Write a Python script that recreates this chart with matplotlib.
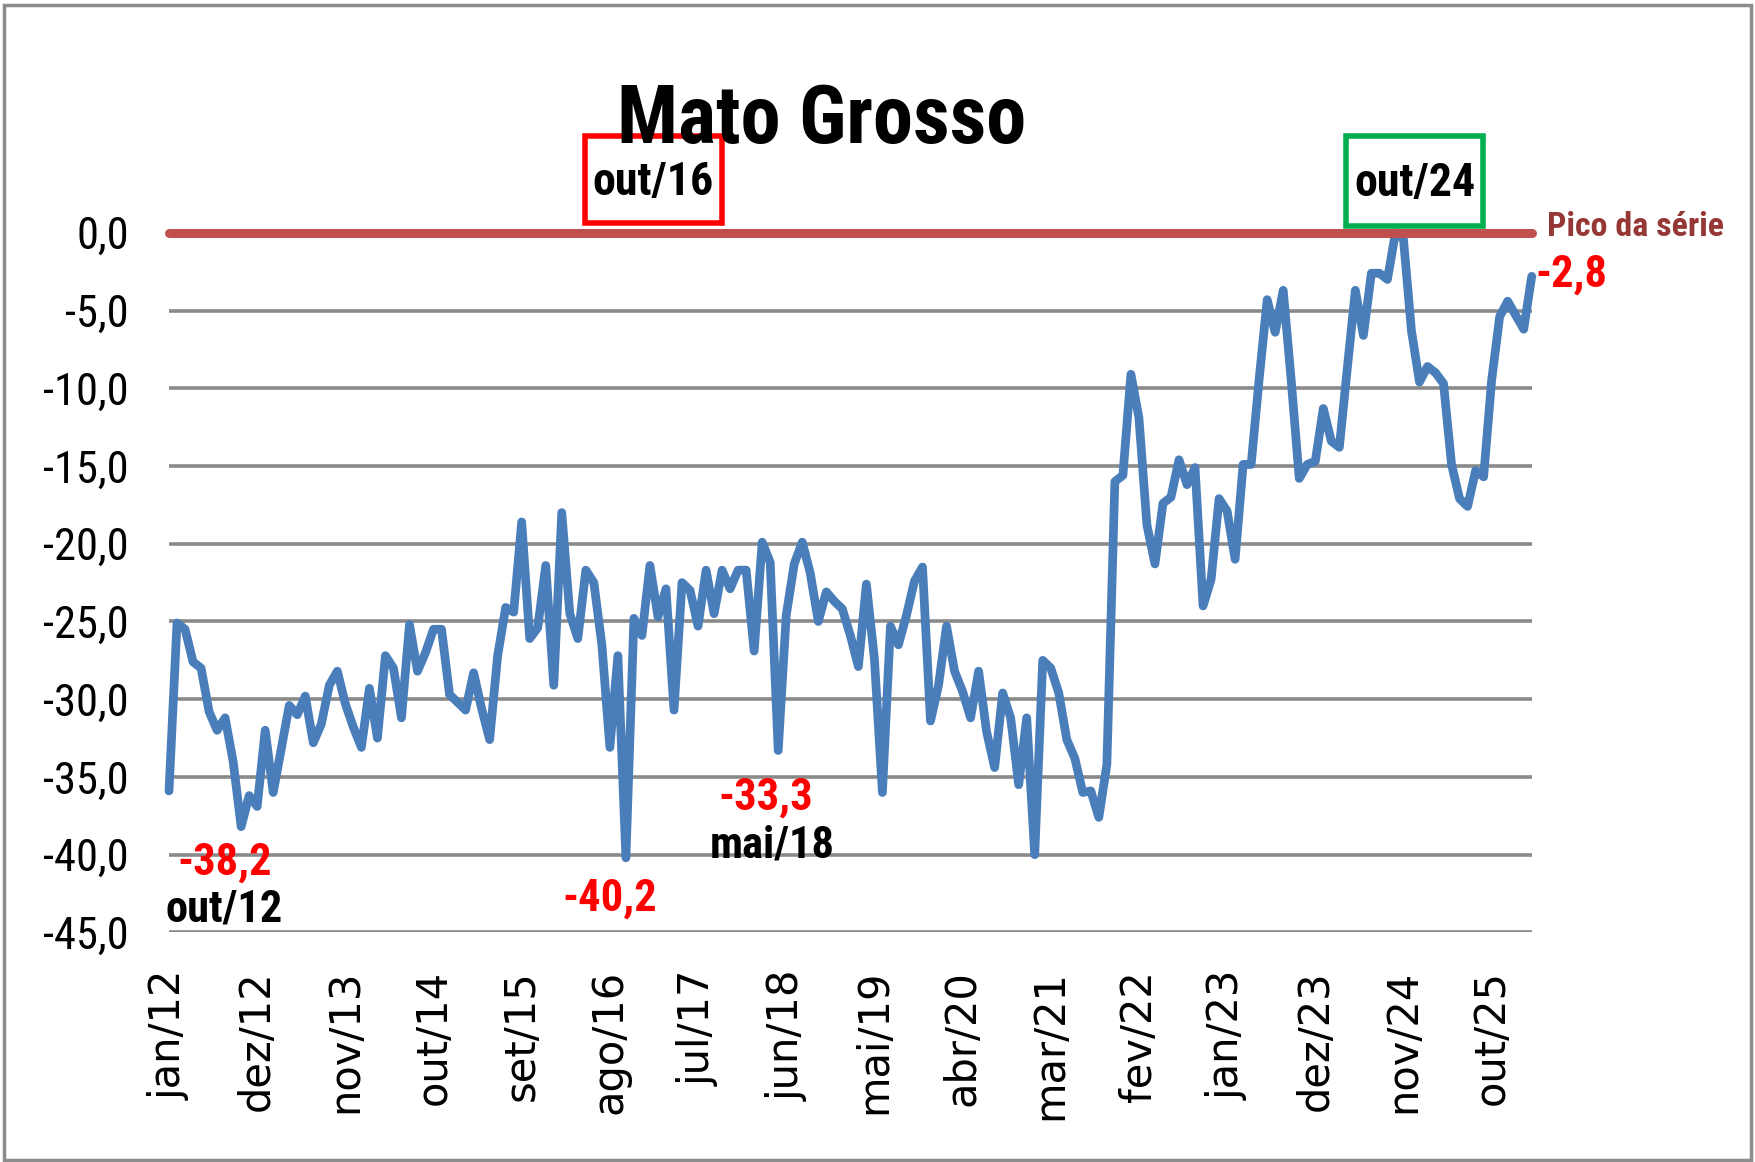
import matplotlib.pyplot as plt
from matplotlib.patches import Rectangle

W, H = 1755, 1162
NARROW = ["Roboto Condensed", "DejaVu Sans Condensed", "Liberation Sans"]

# monthly index, jan/12 .. mar/26 (difference to the series peak)
values = [
    -35.9, -25.1, -25.5, -27.6, -28.0, -30.8, -32.0, -31.2, -34.0, -38.2,
    -36.2, -36.9, -32.0, -36.0, -33.2, -30.4, -31.0, -29.8, -32.8, -31.6,
    -29.1, -28.2, -30.3, -31.8, -33.1, -29.3, -32.5, -27.2, -28.0, -31.2,
    -25.2, -28.2, -27.0, -25.5, -25.5, -29.7, -30.2, -30.7, -28.3, -30.6,
    -32.6, -27.2, -24.1, -24.4, -18.6, -26.1, -25.4, -21.4, -29.1, -18.0,
    -24.5, -26.1, -21.7, -22.5, -26.5, -33.1, -27.2, -40.2, -24.8, -25.9,
    -21.4, -24.7, -22.9, -30.7, -22.5, -23.0, -25.3, -21.7, -24.5, -21.7,
    -22.9, -21.7, -21.7, -26.9, -19.9, -21.2, -33.3, -24.6, -21.3, -19.9,
    -21.9, -25.0, -23.1, -23.7, -24.2, -25.9, -27.9, -22.6, -27.4, -36.0,
    -25.3, -26.5, -24.6, -22.4, -21.5, -31.4, -29.1, -25.3, -28.2, -29.5,
    -31.2, -28.2, -32.1, -34.4, -29.6, -31.2, -35.5, -31.2, -40.0, -27.5,
    -28.0, -29.6, -32.6, -33.8, -36.0, -35.9, -37.6, -34.2, -16.0, -15.6,
    -9.1, -11.9, -18.8, -21.3, -17.4, -17.0, -14.6, -16.2, -15.1, -24.0,
    -22.3, -17.1, -17.9, -21.0, -14.9, -14.9, -9.4, -4.3, -6.4, -3.7,
    -9.5, -15.8, -14.9, -14.7, -11.3, -13.4, -13.8, -8.7, -3.7, -6.6,
    -2.6, -2.6, -3.0, 0.0, -0.4, -6.3, -9.6, -8.6, -9.0, -9.7,
    -14.9, -17.1, -17.6, -15.3, -15.7, -9.5, -5.4, -4.4, -5.3, -6.2,
    -2.8,
]
tick_labels = ["jan/12", "dez/12", "nov/13", "out/14", "set/15", "ago/16",
               "jul/17", "jun/18", "mai/19", "abr/20", "mar/21", "fev/22",
               "jan/23", "dez/23", "nov/24", "out/25"]
tick_step = 11
y_ticks = [0, -5, -10, -15, -20, -25, -30, -35, -40, -45]
peak_value = 0.0

# (text, x index, y value, colour)
notes = [
    ("-38,2", 6.9, -40.5, "#ff0000"),
    ("out/12", 6.9, -43.5, "black"),
    ("-40,2", 55.0, -42.8, "#ff0000"),
    ("-33,3", 74.4, -36.3, "#ff0000"),
    ("mai/18", 75.2, -39.4, "black"),
    ("-2,8", 175.0, -2.7, "#ff0000"),
]


def px(x, y):
    return x / W, 1 - y / H


fig = plt.figure(figsize=(W / 100, H / 100), dpi=100)
left, top = px(169, 232.8)
_, bottom = px(0, 932.4)
ax = fig.add_axes([left, bottom, (1531.7 - 169) / W, top - bottom])

n = len(values)
xs = list(range(n))

for v in y_ticks[1:]:
    ax.axhline(v, color="#8a8a8a", lw=2.6, zorder=1)

ax.plot(xs, values, color="#4a7ebb", lw=6.3, solid_joinstyle="round",
        solid_capstyle="round", clip_on=False, zorder=3)
ax.plot([0, n - 1], [peak_value, peak_value], color="#c0504d", lw=6.5,
        solid_capstyle="round", clip_on=False, zorder=4)

ax.set_xlim(0, n - 1)
ax.set_ylim(-45, 0)
ax.set_xticks(list(range(0, n, tick_step))[:len(tick_labels)])
ax.set_xticklabels(tick_labels, rotation=90, fontsize=30, family="DejaVu Sans")
ax.set_yticks(y_ticks)
ax.set_yticklabels([f"{v:.1f}".replace(".", ",") for v in y_ticks],
                   fontsize=32, family=NARROW)
ax.tick_params(axis="x", length=0, pad=27)
ax.tick_params(axis="y", length=0, pad=29)
for s in ax.spines.values():
    s.set_visible(False)

for text, x, y, c in notes:
    ax.text(x, y, text, color=c, fontsize=32, fontweight="bold", family=NARROW,
            ha="center", va="center", clip_on=False)

ax.text(183, 0.4, "Pico da série", color="#953735", fontsize=24.5,
        fontweight="bold", family=NARROW, ha="center", va="center", clip_on=False)

# title and period boxes
fig.text(*px(822, 143), "Mato Grosso", fontsize=58, fontweight="bold",
         family=NARROW, ha="center", va="baseline", zorder=7)
for label, (x0, y0, x1, y1), ec in [("out/16", (585, 136, 722, 223), "#ff0000"),
                                     ("out/24", (1346, 136, 1483, 226), "#00b050")]:
    bx, by = px(x0, y1)
    fig.patches.append(Rectangle((bx, by), (x1 - x0) / W, (y1 - y0) / H,
                                 transform=fig.transFigure, fc="white", ec=ec,
                                 lw=4, zorder=5))
    fig.text(*px((x0 + x1) / 2, (y0 + y1) / 2 + 2), label, fontsize=33,
             fontweight="bold", family=NARROW, ha="center", va="center", zorder=6)

# outer frame
fig.patches.append(Rectangle((0.002, 0.002), 0.996, 0.994, transform=fig.transFigure,
                             fill=False, ec="#8c8c8c", lw=2.5, zorder=0))

fig.savefig("out.png", dpi=100)
